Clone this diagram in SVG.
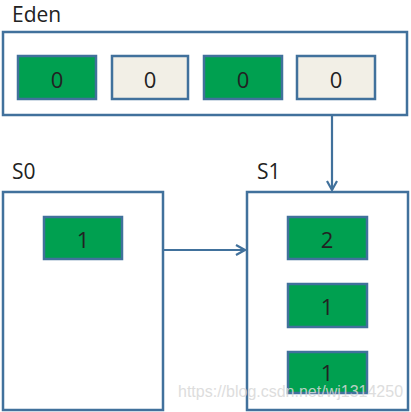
<svg xmlns="http://www.w3.org/2000/svg" width="411" height="412" viewBox="0 0 411 412">
<style>
.box{fill:#fff;stroke:#41719c;stroke-width:2.5}
.g{fill:#00a050;stroke:#41719c;stroke-width:2.5}
.b{fill:#f2efe6;stroke:#41719c;stroke-width:2.5}
.t{font-family:"Open Sans","Liberation Sans",sans-serif;font-size:22px;fill:#222;text-anchor:middle}
.lbl{font-family:"Open Sans","Liberation Sans",sans-serif;font-size:21px;fill:#222}
.c{stroke:#41719c;stroke-width:2.2;fill:none}
.wm{font-family:"Liberation Sans",Arial,sans-serif;font-size:16px;fill:#d8d8d8;opacity:0.85}
</style>
<defs>
<marker id="ah" viewBox="0 0 12 12" refX="11" refY="6" markerWidth="12" markerHeight="12" markerUnits="userSpaceOnUse" orient="auto">
<path d="M2,1 L11,6 L2,11" fill="none" stroke="#41719c" stroke-width="2.2"/>
</marker>
</defs>
<rect width="411" height="412" fill="#fff"/>
<g id="eden">
<text class="lbl" x="12" y="22">Eden</text>
<rect class="box" x="3" y="32" width="404" height="83"/>
</g>
<g id="e0"><rect class="g" x="18" y="56" width="78" height="43"/><text class="t" x="57" y="88">0</text></g>
<g id="e1"><rect class="b" x="112" y="56" width="76" height="43"/><text class="t" x="150" y="88">0</text></g>
<g id="e2"><rect class="g" x="204" y="56" width="78" height="43"/><text class="t" x="243" y="88">0</text></g>
<g id="e3"><rect class="b" x="297" y="56" width="78" height="43"/><text class="t" x="336" y="88">0</text></g>
<g id="s0">
<text class="lbl" x="12" y="179">S0</text>
<rect class="box" x="3" y="192" width="160" height="218"/>
</g>
<g id="s0n1"><rect class="g" x="44" y="217" width="78" height="42"/><text class="t" x="83" y="248">1</text></g>
<g id="s1">
<text class="lbl" x="257" y="179">S1</text>
<rect class="box" x="247" y="192" width="161" height="218"/>
</g>
<g id="s1n2"><rect class="g" x="288" y="217" width="79" height="42"/><text class="t" x="327" y="248">2</text></g>
<g id="s1n1a"><rect class="g" x="288" y="284" width="79" height="43"/><text class="t" x="327" y="315">1</text></g>
<g id="s1n1b"><rect class="g" x="288" y="352" width="79" height="41"/><text class="t" x="327" y="381">1</text></g>
<g id="connectors">
<line class="c" x1="332" y1="116" x2="332" y2="190" marker-end="url(#ah)"/>
<line class="c" x1="164" y1="250" x2="245" y2="250" marker-end="url(#ah)"/>
</g>
<text class="wm" x="178" y="397">https://blog.csdn.net/wj1314250</text>
</svg>
